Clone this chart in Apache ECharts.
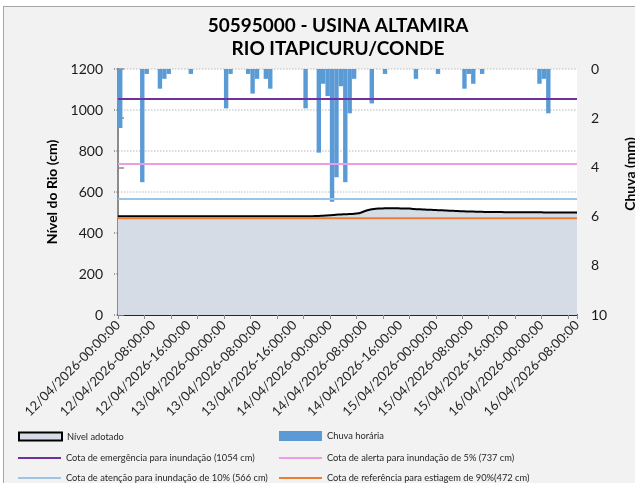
<!DOCTYPE html>
<html>
<head>
<meta charset="utf-8">
<script src="https://cdn.jsdelivr.net/npm/echarts@6/dist/echarts.min.js"></script>
<style>
  html, body { margin: 0; padding: 0; background: #fff; overflow: hidden; }
  #chart { width: 635px; height: 483px; }
</style>
</head>
<body>
<div id="chart"></div>
<script>
// ticks on the time axis, every 8 hours
const tickLabels = [
  '12/04/2026-00:00:00', '12/04/2026-08:00:00', '12/04/2026-16:00:00',
  '13/04/2026-00:00:00', '13/04/2026-08:00:00', '13/04/2026-16:00:00',
  '14/04/2026-00:00:00', '14/04/2026-08:00:00', '14/04/2026-16:00:00',
  '15/04/2026-00:00:00', '15/04/2026-08:00:00', '15/04/2026-16:00:00',
  '16/04/2026-00:00:00', '16/04/2026-08:00:00'
];

// river level (cm), hourly from 12/04 00:00 to 16/04 08:00
const levelCm = [
  482, 482, 482, 482, 482, 482, 482, 482, 482, 482,
  482, 482, 482, 482, 482, 482, 482, 482, 482, 482,
  482, 482, 482, 482, 482, 482, 482, 482, 482, 482,
  482, 482, 482, 482, 482, 482, 482, 482, 482, 482,
  482, 482, 482, 482, 482, 483, 484, 485, 486, 488,
  490, 491, 492, 493, 495, 499, 507, 513, 517, 519,
  520, 521, 521, 521, 520, 520, 519, 517, 516, 515,
  514, 513, 512, 511, 510, 509, 508, 507, 506, 505,
  505, 504, 504, 503, 503, 502, 502, 502, 501, 501,
  501, 501, 501, 501, 501, 501, 501, 500, 500, 500,
  500, 500, 500, 500, 500
];

// hourly rain (mm), one value per hour interval
const rainMm = [
  2.4, 0, 0, 0, 0, 4.6, 0.2, 0, 0, 0.8,
  0.4, 0.2, 0, 0, 0, 0, 0.2, 0, 0, 0,
  0, 0, 0, 0, 1.6, 0.2, 0, 0, 0, 0.2,
  1.0, 0.4, 0, 0.4, 0.8, 0, 0, 0, 0, 0,
  0, 0, 1.6, 0, 0, 3.4, 0.6, 1.1, 5.4, 4.4,
  0.7, 4.6, 1.8, 0.4, 0, 0, 0, 1.4, 0, 0,
  0.2, 0, 0, 0, 0, 0, 0, 0.4, 0, 0,
  0, 0, 0.2, 0, 0, 0, 0, 0, 0.8, 0.2,
  0.6, 0, 0.2, 0, 0, 0, 0, 0, 0, 0,
  0, 0, 0, 0, 0, 0.6, 0.4, 1.8, 0, 0,
  0, 0, 0, 0
];

const thresholdNames = [
  'Cota de emergência para inundação (1054 cm)',
  'Cota de alerta para inundação de 5% (737 cm)',
  'Cota de atenção para inundação de 10% (566 cm)',
  'Cota de referência para estiagem de 90%(472 cm)'
];
const thresholdValues = [1054, 737, 566, 472];
const thresholdColors = ['#7030a0', '#ee9be8', '#9dc3e6', '#ed7d31'];

const lastHour = levelCm.length - 1;
const font = 'Lato';

const chart = echarts.init(document.getElementById('chart'));

const thresholdSeries = thresholdNames.map((name, k) => ({
  name: name,
  type: 'line',
  xAxisIndex: 0,
  yAxisIndex: 0,
  symbol: 'none',
  silent: true,
  lineStyle: { color: thresholdColors[k], width: 2 },
  itemStyle: { color: thresholdColors[k] },
  data: [[0, thresholdValues[k]], [lastHour, thresholdValues[k]]],
  z: 5
}));

// one legend per entry so that the two columns line up like the original
const legendItem = (name, left, center, h, extra) => ({
  left: left,
  top: center - Math.max(h, 9) / 2,
  padding: 0,
  itemWidth: 43,
  itemHeight: h,
  itemGap: 0,
  textStyle: { fontFamily: font, fontSize: 9.3, color: '#262626' },
  data: [Object.assign({ name: name, icon: 'rect' }, extra || {})]
});

chart.setOption({
  backgroundColor: '#f2f2f2',
  animation: false,
  title: {
    text: '50595000 - USINA ALTAMIRA\nRIO ITAPICURU/CONDE',
    left: 333,
    top: 9,
    textAlign: 'center',
    textStyle: { fontFamily: font, fontSize: 19, fontWeight: 'bold', color: '#000', lineHeight: 23 }
  },
  graphic: [
    { type: 'rect', shape: { x: 0, y: 0, width: 635, height: 6 }, style: { fill: '#fff' }, z: 100 },
    { type: 'rect', shape: { x: 0, y: 0, width: 3, height: 483 }, style: { fill: '#fff' }, z: 100 },
    { type: 'line', shape: { x1: 3, y1: 6.5, x2: 635, y2: 6.5 }, style: { stroke: '#a6a6a6', lineWidth: 1 }, z: 100 },
    { type: 'line', shape: { x1: 3.5, y1: 6, x2: 3.5, y2: 483 }, style: { stroke: '#a6a6a6', lineWidth: 1 }, z: 100 }
  ],
  legend: [
    legendItem('Nível adotado', 18, 436, 8, { itemStyle: { color: '#d6dce5', borderColor: '#000', borderWidth: 2 } }),
    legendItem(thresholdNames[0], 18, 458, 2),
    legendItem(thresholdNames[2], 18, 478, 2),
    legendItem('Chuva horária', 279, 436, 10),
    legendItem(thresholdNames[1], 279, 458, 2),
    legendItem(thresholdNames[3], 279, 478, 2)
  ],
  grid: {
    left: 118,
    top: 69,
    width: 459,
    height: 246,
    show: true,
    backgroundColor: '#fff',
    borderWidth: 0,
    containLabel: false,
    outerBoundsMode: 'none'
  },
  xAxis: [
    {
      type: 'value',
      min: 0,
      max: lastHour,
      interval: 8,
      splitLine: { show: false },
      axisLine: { show: true, onZero: false, lineStyle: { color: '#262626', width: 2 } },
      axisTick: { show: false },
      axisLabel: {
        rotate: 45,
        margin: 8,
        fontFamily: font,
        fontSize: 13,
        color: '#262626',
        formatter: v => tickLabels[Math.round(v / 8)] || ''
      }
    },
    {
      type: 'value',
      position: 'bottom',
      min: 0,
      max: lastHour,
      interval: 6,
      splitLine: { show: false },
      axisLine: { show: false },
      axisTick: { show: true, length: 4, lineStyle: { color: '#8c8c8c' } },
      axisLabel: { show: false }
    }
  ],
  yAxis: [
    {
      type: 'value',
      min: 0,
      max: 1200,
      interval: 200,
      name: 'Nível do Rio (cm)',
      nameLocation: 'middle',
      nameRotate: 90,
      nameGap: 46,
      nameTextStyle: { fontFamily: font, fontSize: 14, fontWeight: 'bold', color: '#000' },
      axisLine: { show: true, lineStyle: { color: '#7f7f7f', type: 'dotted', width: 1.5 } },
      axisTick: { show: true, length: 4, lineStyle: { color: '#7f7f7f', type: 'dotted', width: 1.5 } },
      axisLabel: { margin: 15, fontFamily: font, fontSize: 14, color: '#1a1a1a', formatter: v => String(v) },
      splitLine: { show: true, lineStyle: { color: '#d0d0d0', type: 'dotted', width: 1.5 } }
    },
    {
      type: 'value',
      min: 0,
      max: 10,
      interval: 2,
      inverse: true,
      position: 'right',
      name: 'Chuva (mm)',
      nameLocation: 'middle',
      nameRotate: 90,
      nameGap: 46,
      nameTextStyle: { fontFamily: font, fontSize: 14, fontWeight: 'bold', color: '#000', padding: [0, 0, 0, 36] },
      axisLine: { show: true, lineStyle: { color: '#8c8c8c', width: 2 } },
      axisTick: { show: true, length: 6, lineStyle: { color: '#8c8c8c', width: 1.5 } },
      axisLabel: { margin: 14, fontFamily: font, fontSize: 14, color: '#1a1a1a' },
      splitLine: { show: false }
    }
  ],
  series: [
    {
      name: 'Nível adotado',
      type: 'line',
      xAxisIndex: 0,
      yAxisIndex: 0,
      symbol: 'none',
      smooth: 0.3,
      lineStyle: { color: '#000', width: 2 },
      itemStyle: { color: '#d6dce5' },
      areaStyle: { color: '#d6dce5', opacity: 1 },
      data: levelCm.map((v, i) => [i, v]),
      z: 2
    },
    {
      name: 'Chuva horária',
      type: 'bar',
      xAxisIndex: 0,
      yAxisIndex: 1,
      barWidth: 4.4,
      itemStyle: { color: '#5b9bd5' },
      data: rainMm.map((v, i) => [i + 0.5, v]),
      z: 3
    },
    ...thresholdSeries
  ]
});
</script>
</body>
</html>
